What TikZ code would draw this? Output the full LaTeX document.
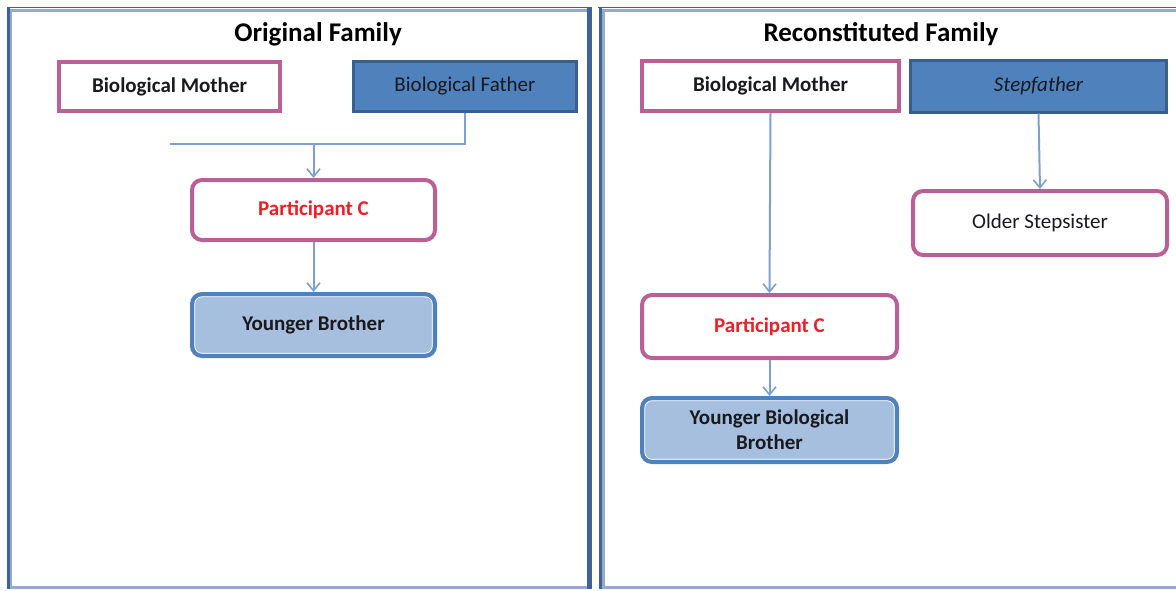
\documentclass[tikz,border=0pt]{standalone}
\usepackage{fontspec}
\setmainfont{Carlito}
\usetikzlibrary{arrows.meta}
\definecolor{pinkb}{RGB}{187,96,150}
\definecolor{blued}{RGB}{58,95,140}
\definecolor{bluef}{RGB}{79,129,189}
\definecolor{bluel}{RGB}{167,191,222}
\definecolor{framed}{RGB}{62,99,150}
\definecolor{framel}{RGB}{150,170,200}
\definecolor{arrc}{RGB}{125,160,208}
\definecolor{txt}{RGB}{25,25,30}
\definecolor{redt}{RGB}{240,30,40}
\tikzset{
  sz/.style 2 args={minimum width=#1, minimum height=#2},
  bfont/.style={font=\fontsize{21}{25}\selectfont\bfseries},
  rfont/.style={font=\fontsize{21}{25}\selectfont},
  ifont/.style={font=\fontsize{21}{25}\selectfont\itshape},
  pinksq/.style={draw=pinkb, line width=4, fill=white, inner sep=0, bfont, text=txt},
  bluesq/.style={draw=blued, line width=3, fill=bluef, inner sep=0, rfont, text=txt},
  pinkrnd/.style={pinksq, rounded corners=10},
  bluernd/.style={draw=bluef, line width=4, fill=bluel, rounded corners=10, inner sep=0,
    bfont, text=txt, align=center,
    path picture={\draw[white, line width=0.7, rounded corners=7]
      ([xshift=2.8pt,yshift=2.8pt]path picture bounding box.south west) rectangle
      ([xshift=-2.8pt,yshift=-2.8pt]path picture bounding box.north east);}},
  title/.style={font=\fontsize{27}{31}\selectfont\bfseries, text=black},
  conn/.style={draw=arrc, line width=2},
  arr/.style={conn, -{Straight Barb[length=8pt,width=13pt,line width=1.6pt]}},
}
\begin{document}
\begin{tikzpicture}[x=1pt,y=-1pt]
\useasboundingbox (0,0) rectangle (1176,590);
\clip (0,0) rectangle (1176,590);
\fill[white] (0,0) rectangle (1176,590);
% panels
\draw[framel, line width=3] (10,10) rectangle (590,587);
\draw[framed, line width=1.5] (7,7.5) -- (592,7.5);
\draw[framed, line width=3.5] (8.5,7) -- (8.5,589);
\draw[framed, line width=4.5] (589.5,7) -- (589.5,589);
\draw[framel, line width=3] (603,10) rectangle (1200,587);
\draw[framed, line width=1.5] (598,7.5) -- (1200,7.5);
\draw[framed, line width=3.5] (600.5,7) -- (600.5,589);
% titles
\node[title] (tL) at (318,34) {Original Family};
\node[title] (tR) at (881,34) {Reconstituted Family};
% left family
\node[pinksq, sz={221}{49}] (mL) at (169.5,86.5) {Biological Mother};
\node[bluesq, sz={223}{50}] (fL) at (465,86.5) {Biological Father};
\node[pinkrnd, sz={243}{60}, text=redt] (pL) at (313.5,210) {Participant C};
\node[bluernd, sz={243}{62}] (yL) at (313.5,325) {Younger Brother};
% right family
\node[pinksq, sz={257}{50}] (mR) at (770.5,86) {Biological Mother};
\node[bluesq, sz={256}{52}, ifont] (sF) at (1038.5,86) {Stepfather};
\node[pinkrnd, sz={254}{64}, rfont] (sS) at (1040,223) {Older Stepsister};
\node[pinkrnd, sz={255}{63}, text=redt] (pR) at (769.5,326.5) {Participant C};
\node[bluernd, sz={255}{64}] (yR) at (769.5,430) {Younger Biological\\Brother};
% connectors
\coordinate (jL) at (170,144);
\coordinate (kL) at (313.5,144);
\draw[conn] (fL.south) |- (jL);
\draw[arr] (kL) -- (pL.north);
\draw[arr] (pL.south) -- (yL.north);
\draw[arr] (mR.south) -- (pR.north);
\draw[arr] (sF.south) -- (sS.north);
\draw[arr] (pR.south) -- (yR.north);
\end{tikzpicture}
\end{document}
